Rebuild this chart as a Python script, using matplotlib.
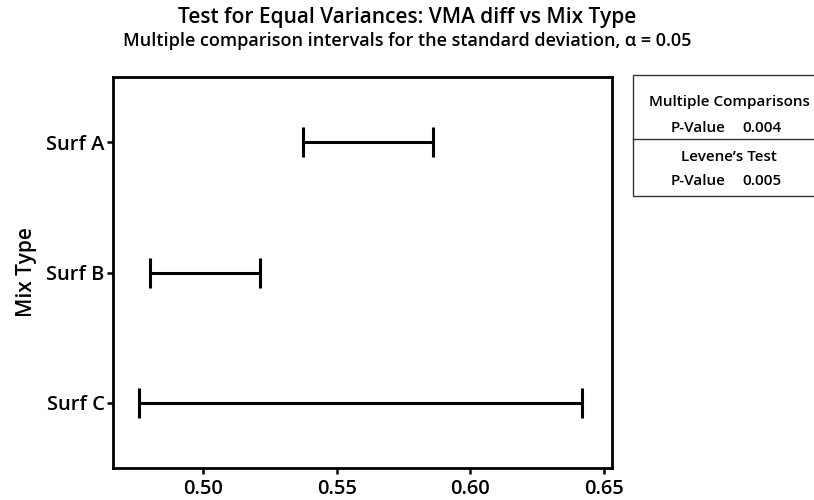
import matplotlib
matplotlib.use("Agg")
import matplotlib.pyplot as plt
from matplotlib.patches import Rectangle
from matplotlib.lines import Line2D

plt.rcParams['font.family'] = ['Open Sans', 'DejaVu Sans']

categories = ["Surf A", "Surf B", "Surf C"]
lower = [0.5374, 0.4800, 0.4760]
upper = [0.5861, 0.5213, 0.6420]
xticks = [0.50, 0.55, 0.60, 0.65]
xticklabels = ["0.50", "0.55", "0.60", "0.65"]
table_rows = [("Multiple Comparisons", None), ("P-Value", "0.004"),
              ("Levene\u2019s Test", None), ("P-Value", "0.005")]

fig = plt.figure(figsize=(8.14, 5.0), dpi=100)
ax = fig.add_axes([113/814, 1-468/500, (612-113)/814, (468-77)/500])

ypos = list(range(1, len(categories) + 1))
centers = [(l + u) / 2 for l, u in zip(lower, upper)]
halfw = [(u - l) / 2 for l, u in zip(lower, upper)]
ax.errorbar(centers, ypos, xerr=halfw, fmt='none', ecolor='black',
            elinewidth=2.2, capsize=10.5, capthick=2.2)

ax.set_xlim(0.4661, 0.6531)
ax.set_ylim(3.5, 0.5)
ax.set_yticks(ypos)
ax.set_yticklabels(categories)
ax.set_xticks(xticks)
ax.set_xticklabels(xticklabels)
for s in ax.spines.values():
    s.set_linewidth(2.0)
ax.tick_params(axis='both', direction='out', length=4, width=1.8,
               labelsize=14.5)
ax.tick_params(axis='x', pad=4)
ax.tick_params(axis='y', pad=2)
for lbl in ax.get_xticklabels() + ax.get_yticklabels():
    lbl.set_fontweight('semibold')
ax.set_ylabel("Mix Type", fontsize=15, fontweight='semibold', labelpad=7)

fig.text(0.5, 1-17/500, "Test for Equal Variances: VMA diff vs Mix Type",
         ha='center', va='center', fontsize=15, fontweight='semibold')
fig.text(0.5, 1-41/500,
         "Multiple comparison intervals for the standard deviation, \u03b1 = 0.05",
         ha='center', va='center', fontsize=13, fontweight='semibold')

# Table box
W, H = 814, 500
fig.patches.append(Rectangle((633/W, 1-196/H), 200/W, (196-75)/H,
                             transform=fig.transFigure, fill=False,
                             edgecolor='#333333', linewidth=1.0))
fig.lines.append(Line2D([633/W, 833/W], [1-139/H, 1-139/H],
                        transform=fig.transFigure, color='#333333', linewidth=1.0))
row_y = [102, 128, 157, 181]
for (a, b), yy in zip(table_rows, row_y):
    if b is None:
        fig.text(729/W, 1-yy/H, a, ha='center', va='center',
                 fontsize=11, fontweight='semibold')
    else:
        fig.text(726/W, 1-yy/H, a, ha='right', va='center',
                 fontsize=11, fontweight='semibold')
        fig.text(742/W, 1-yy/H, b, ha='left', va='center',
                 fontsize=11, fontweight='semibold')

fig.savefig("out.png", dpi=100)
